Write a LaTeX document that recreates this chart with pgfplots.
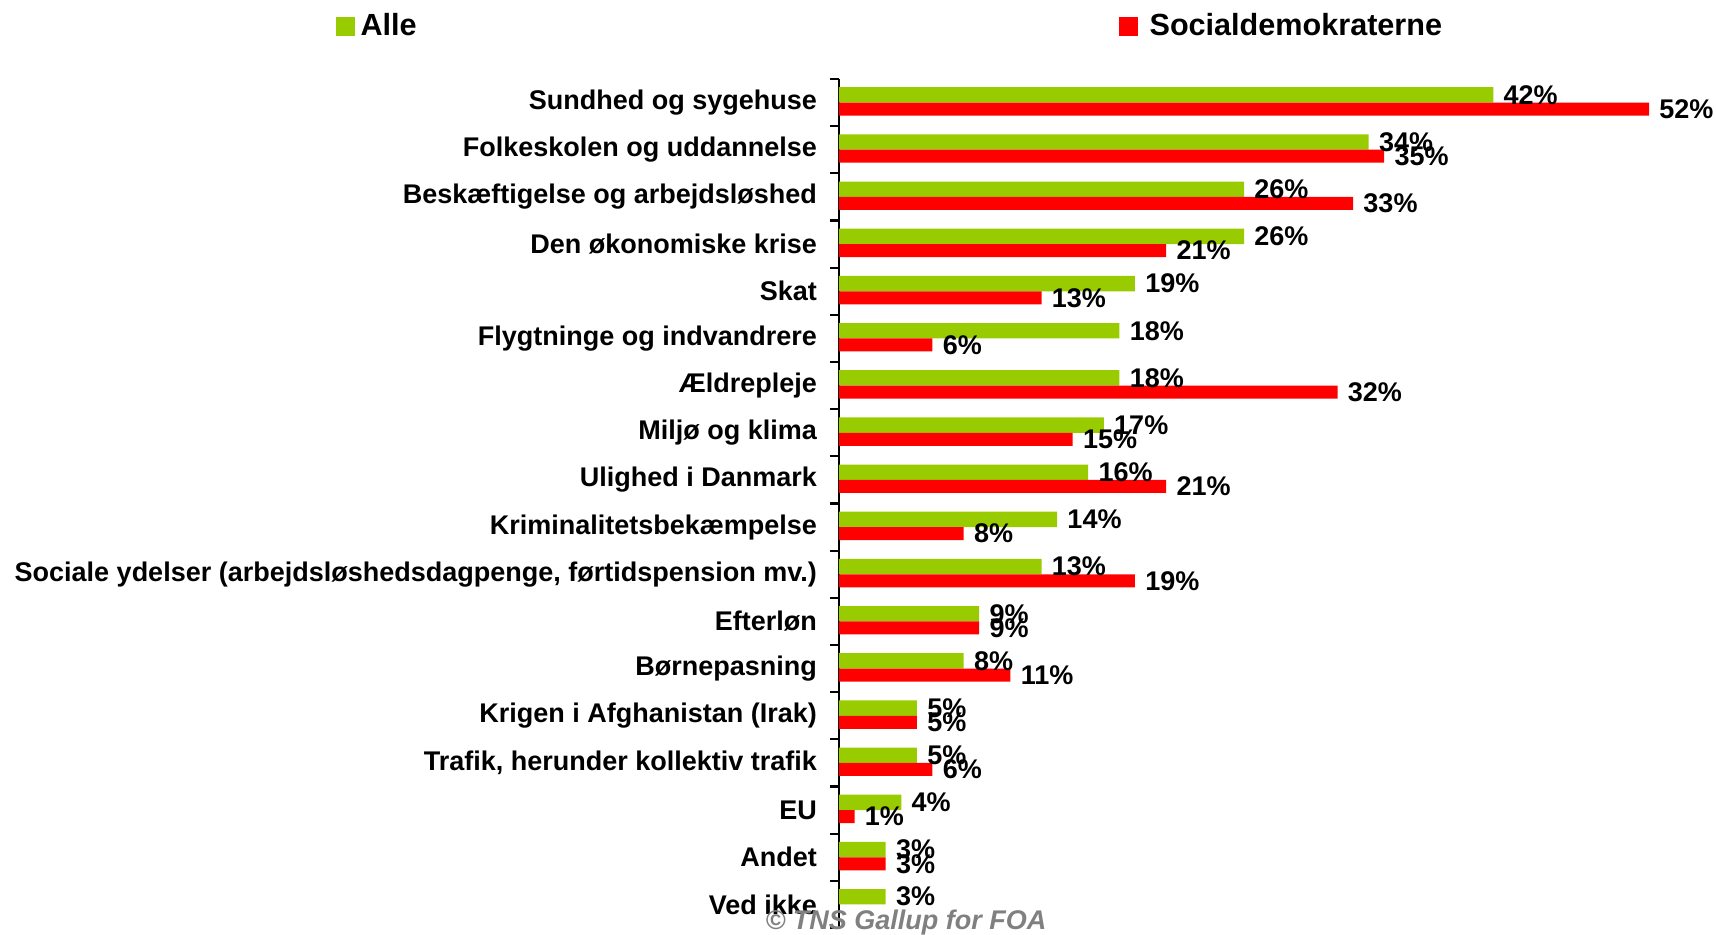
\documentclass[border=0pt]{standalone}
\usepackage{pgfplots}
\pgfplotsset{compat=1.18}
\usepackage{fontspec}
\setmainfont{Liberation Sans}
\definecolor{cgreen}{HTML}{99CC00}
\definecolor{cred}{HTML}{FF0000}
\newcommand{\lblfont}{\fontsize{13.5}{16}\selectfont\bfseries}
\begin{document}
\begin{tikzpicture}
\path[use as bounding box] (-419.5pt,-3.5pt) rectangle (438.5pt,464pt);
\begin{axis}[
  scale only axis, width=428.4pt, height=424.5pt,
  xmin=0, xmax=55, ymin=-0.5, ymax=17.5, y dir=reverse,
  xbar,
  axis x line=none, axis y line*=left,
  y axis line style={line width=1.1pt, black},
  ytick={0,...,17},
  yticklabels={Sundhed og sygehuse, Folkeskolen og uddannelse, Beskæftigelse og arbejdsløshed, Den økonomiske krise, Skat, Flygtninge og indvandrere, Ældrepleje, Miljø og klima, Ulighed i Danmark, Kriminalitetsbekæmpelse, {Sociale ydelser (arbejdsløshedsdagpenge, førtidspension mv.)}, Efterløn, Børnepasning, Krigen i Afghanistan (Irak), {Trafik, herunder kollektiv trafik}, EU, Andet, Ved ikke},
  minor ytick={-0.5,0.5,...,17.5},
  major tick length=0pt, minor tick length=4.5pt,
  tick align=outside,
  minor tick style={line width=1.1pt, black},
  yticklabel style={font=\lblfont, xshift=-7.5pt},
  /pgf/number format/assume math mode=true,
  nodes near coords={\pgfmathprintnumber{\pgfplotspointmeta}\%},
  point meta=x,
  nodes near coords style={font=\lblfont, anchor=west, inner sep=1pt, xshift=4pt, text=black},
  legend columns=2,
  legend style={draw=none, fill=none, at={(-0.595,1.0624)}, anchor=west, font=\fontsize{15.3}{18}\selectfont\bfseries},
  legend image code/.code={\fill[#1] (0pt,-4.75pt) rectangle (9.5pt,4.75pt);},
]
\addplot[fill=cgreen, draw=none, bar width=7.7pt, bar shift=3.85pt] coordinates {(42,0) (34,1) (26,2) (26,3) (19,4) (18,5) (18,6) (17,7) (16,8) (14,9) (13,10) (9,11) (8,12) (5,13) (5,14) (4,15) (3,16) (3,17)};
\addplot[fill=cred, draw=none, bar width=6.5pt, bar shift=-3.25pt] coordinates {(52,0) (35,1) (33,2) (21,3) (13,4) (6,5) (32,6) (15,7) (21,8) (8,9) (19,10) (9,11) (11,12) (5,13) (6,14) (1,15) (3,16)};
\legend{\hspace{1pt}\makebox[377pt][l]{Alle}, \hspace{4pt}Socialdemokraterne}
\end{axis}
\node[text=black!50, font=\fontsize{13.5}{16}\selectfont\bfseries\itshape] at (33.5pt,2.5pt) {© TNS Gallup for FOA};
\end{tikzpicture}
\end{document}
